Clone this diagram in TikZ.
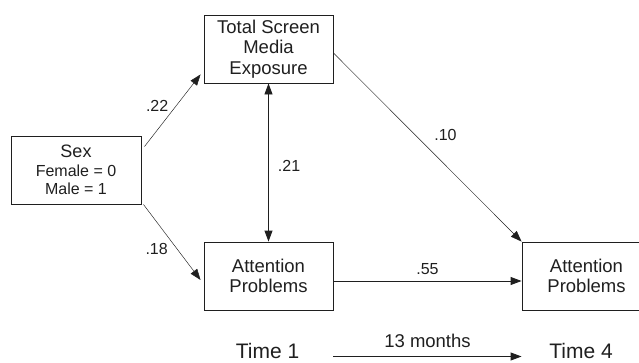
\documentclass[tikz,border=0pt]{standalone}
\usepackage{fontspec}
\setmainfont{Liberation Sans}
\usetikzlibrary{positioning, shapes, arrows.meta, calc}

\begin{document}
\begin{tikzpicture}[x=1pt, y=-1pt, color={black!88},
    box/.style={rectangle, draw, line width=0.9pt, minimum width=129pt, minimum height=68pt,
      inner sep=0pt, align=center, font=\fontsize{18.5}{20.5}\selectfont},
    thinarrow/.style={-{Triangle[length=11pt, width=8pt]}, line width=0.45pt},
    thickarrow/.style={-{Triangle[length=11pt, width=8pt]}, line width=0.9pt},
    coef/.style={inner sep=0pt, font=\fontsize{16}{18}\selectfont},
    timelabel/.style={inner sep=0pt, font=\fontsize{21}{24}\selectfont}]
  \clip (0,0) rectangle (639,362);

  % Nodes
  \node[box, minimum width=130pt, font=\fontsize{16}{18.5}\selectfont] (sex) at (76,170)
    {{\fontsize{18}{18.5}\selectfont Sex}\\Female = 0\\Male = 1};
  \node[box] (tsme) at (268.5,49) {Total Screen\\Media\\Exposure};
  \node[box] (ap1) at (268.5,276) {Attention\\Problems};
  \node[box] (ap4) at (586.5,276) {Attention\\Problems};

  \node[timelabel, anchor=base] (time1) at (267.5,358.5) {Time 1};
  \node[timelabel, anchor=base] (time4) at (581,358.5) {Time 4};

  % Arrows
  \draw[thinarrow] ([xshift=3pt, yshift=-11pt]sex.north east)
    -- node[coef, midway, left=4pt, yshift=5pt] {.22} ([xshift=-3pt, yshift=9pt]tsme.south west);
  \draw[thinarrow] ([xshift=2pt]sex.south east)
    -- node[coef, midway, left=4pt, yshift=-7pt] {.18} ([xshift=-3pt, yshift=-4pt]ap1.west);
  \draw[thinarrow] ([yshift=-4pt]tsme.east)
    -- node[coef, midway, xshift=18pt, yshift=12pt] {.10} (ap4.north west);
  \draw[thickarrow, {Triangle[length=11pt, width=8pt]}-{Triangle[length=11pt, width=8pt]}] (tsme.south)
    -- node[coef, midway, right=9pt, yshift=-3pt] {.21} (ap1.north);
  \draw[thickarrow] ([yshift=-5pt]ap1.east)
    -- node[coef, midway, above=6pt] {.55} ([yshift=-5pt]ap4.west);

  % Time line
  \draw[thickarrow] ($(ap1.east |- time1.base)+(0,-2)$)
    -- node[timelabel, midway, above=8pt, font=\fontsize{18.5}{20}\selectfont] {13 months} ($(ap4.west |- time1.base)+(0,-2)$);
\end{tikzpicture}
\end{document}
